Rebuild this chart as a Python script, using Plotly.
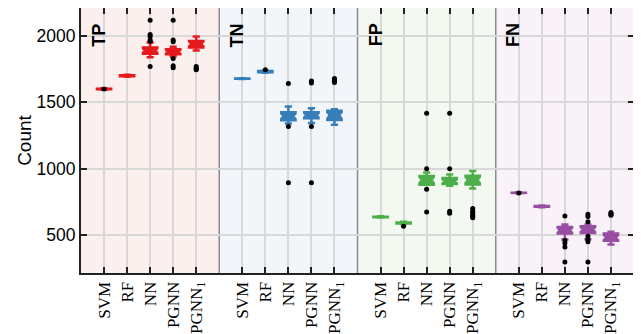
import plotly.graph_objects as go

metrics = ["TP", "TN", "FP", "FN"]
models = ["SVM", "RF", "NN", "PGNN", "PGNN<sub>1</sub>"]
colors = ["#e41a1c", "#377eb8", "#4daf4a", "#984ea3"]
panel_bg = ["#fcf0ef", "#f2f6fa", "#f3f8f1", "#f9f3f9"]

# per metric: 5 models each (SVM, RF, NN, PGNN, PGNN1)
lower_fence = [1595, 1692, 1840, 1845, 1890,
               1675, 1722, 1340, 1345, 1332,
               632, 583, 880, 872, 852,
               815, 710, 467, 470, 430]
q1 = [1598, 1697, 1865, 1862, 1912,
      1677, 1727, 1365, 1380, 1367,
      635, 588, 880, 885, 882,
      817, 714, 512, 517, 457]
median = [1600, 1700, 1890, 1880, 1940,
          1678, 1731, 1395, 1402, 1402,
          637, 592, 915, 905, 915,
          818, 717, 537, 542, 482]
q3 = [1602, 1703, 1912, 1900, 1962,
      1679, 1735, 1425, 1425, 1437,
      639, 596, 945, 930, 948,
      820, 720, 562, 567, 512]
upper_fence = [1605, 1708, 1950, 1918, 1995,
               1681, 1740, 1468, 1455, 1447,
               642, 600, 972, 957, 982,
               822, 724, 580, 580, 525]
outliers = [[1600], [], [2118, 2010, 1995, 1970, 1960, 1770],
            [2118, 1970, 1955, 1830, 1775, 1760], [1770, 1760, 1750, 1745],
            [], [1746], [1642, 1318, 895], [1660, 1645, 1318, 895],
            [1680, 1672, 1665, 1658, 1650],
            [], [567], [1417, 1000, 845, 675], [1417, 1000, 680, 665],
            [700, 680, 665, 650, 640, 630],
            [818], [], [645, 460, 440, 410, 297],
            [657, 640, 600, 492, 467, 450, 297], [670, 662, 655, 650]]

y_range = [215, 2210]
slots = len(models) + 1

fig = go.Figure()
tickvals, ticktext = [], []
ox, oy = [], []
for p, m in enumerate(metrics):
    idx = list(range(p * len(models), (p + 1) * len(models)))
    xs = [p * slots + k + 1 for k in range(len(models))]
    tickvals += xs
    ticktext += models
    fig.add_trace(go.Box(
        x=xs,
        lowerfence=[lower_fence[i] for i in idx],
        q1=[q1[i] for i in idx],
        median=[median[i] for i in idx],
        q3=[q3[i] for i in idx],
        upperfence=[upper_fence[i] for i in idx],
        notched=True,
        notchspan=[(q3[i] - q1[i]) * 0.35 for i in idx],
        notchwidth=0.18,
        width=0.62,
        whiskerwidth=0.5,
        fillcolor=colors[p],
        line=dict(color=colors[p], width=2.5),
        boxpoints=False,
        showlegend=False,
        hoverinfo="skip",
    ))
    for k, i in enumerate(idx):
        ox += [xs[k]] * len(outliers[i])
        oy += outliers[i]
    fig.add_shape(type="rect", xref="x", yref="paper", x0=p * slots, x1=(p + 1) * slots,
                  y0=0, y1=1, fillcolor=panel_bg[p], line_width=0, layer="below")
    if p > 0:
        fig.add_shape(type="line", xref="x", yref="paper", x0=p * slots, x1=p * slots,
                      y0=0, y1=1, line=dict(color="#8a8a8a", width=1.5), layer="between")
    fig.add_annotation(text="<b>%s</b>" % m, x=p * slots + 0.78, y=0.95, xref="x", yref="paper",
                       textangle=-90, showarrow=False, xanchor="center", yanchor="top",
                       font=dict(family="Liberation Sans", size=18, color="black"))

fig.add_trace(go.Scatter(x=ox, y=oy, mode="markers",
                         marker=dict(color="black", size=5), showlegend=False, hoverinfo="skip"))

fig.update_xaxes(range=[0, slots * len(metrics)], tickvals=tickvals, ticktext=ticktext,
                 tickangle=-90, ticks="inside", ticklen=6, tickwidth=1.5, tickcolor="#222",
                 showline=True, linewidth=2, linecolor="#222", mirror="ticks",
                 showgrid=True, gridcolor="#d8d8d8", gridwidth=1.5, zeroline=False,
                 automargin=False,
                 tickfont=dict(family="Liberation Serif", size=17, color="black"))
fig.update_yaxes(range=y_range, tickvals=[500, 1000, 1500, 2000],
                 ticks="inside", ticklen=6, tickwidth=1.5, tickcolor="#222",
                 showline=True, linewidth=2, linecolor="#222", mirror="ticks",
                 showgrid=True, gridcolor="#d8d8d8", gridwidth=1.5, zeroline=False,
                 automargin=False,
                 tickfont=dict(family="Liberation Sans", size=17.5, color="black"),
                 title=dict(text="Count", font=dict(family="Liberation Sans", size=19, color="black"),
                            standoff=0))

fig.update_layout(width=641, height=334, margin=dict(l=73, r=15, t=0, b=69),
                  paper_bgcolor="white", plot_bgcolor="white", boxmode="overlay")

fig.write_html("out.html")
